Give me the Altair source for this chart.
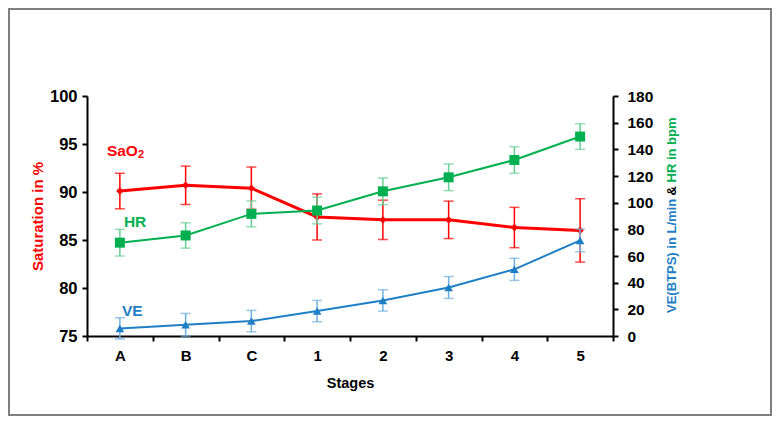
import altair as alt
import pandas as pd

stages = ["A", "B", "C", "1", "2", "3", "4", "5"]
sao2 = [90.1, 90.7, 90.4, 87.4, 87.1, 87.1, 86.3, 86.0]
sao2_err = [1.85, 2.0, 2.2, 2.4, 2.05, 1.95, 2.1, 3.3]
hr = [70.0, 75.4, 91.6, 94.1, 108.5, 119.0, 132.0, 149.6]
hr_err = [10.0, 9.5, 9.7, 10.0, 10.0, 10.0, 10.0, 9.6]
ve = [5.7, 8.4, 11.2, 18.7, 26.7, 36.4, 50.0, 71.7]
ve_err = [8.0, 8.5, 8.0, 8.0, 8.0, 8.2, 8.3, 8.5]

RED = "#FF0000"
GREEN = "#00B050"
GREEN_L = "#66CF95"
BLUE = "#1F7FC4"
BLUE_L = "#6FAFE0"
FONT = "Liberation Sans"

W, H = 526, 240

df = pd.DataFrame({
    "stage": stages,
    "sao2": sao2, "sao2_lo": [v - e for v, e in zip(sao2, sao2_err)], "sao2_hi": [v + e for v, e in zip(sao2, sao2_err)],
    "hr": hr, "hr_lo": [v - e for v, e in zip(hr, hr_err)], "hr_hi": [v + e for v, e in zip(hr, hr_err)],
    "ve": ve, "ve_lo": [v - e for v, e in zip(ve, ve_err)], "ve_hi": [v + e for v, e in zip(ve, ve_err)],
})

xenc = alt.X("stage:N", sort=stages, title="Stages",
             scale=alt.Scale(paddingInner=0, paddingOuter=0),
             axis=alt.Axis(labelAngle=0, tickBand="extent", labelFont=FONT, labelFontSize=15,
                           labelFontWeight="bold", labelColor="black", labelPadding=7,
                           tickSize=5, tickColor="black", tickWidth=2, domainColor="black", domainWidth=2,
                           titleFont=FONT, titleFontSize=14.5, titleFontWeight="bold", titleColor="black",
                           titlePadding=13))

left_scale = alt.Scale(domain=[75, 100])
right_scale = alt.Scale(domain=[0, 180])

left_axis = alt.Axis(orient="left", values=[75, 80, 85, 90, 95, 100], grid=False,
                     labelFont=FONT, labelFontSize=16.5, labelFontWeight="bold", labelColor="black",
                     labelPadding=5, tickSize=5, tickColor="black", tickWidth=2,
                     domainColor="black", domainWidth=2,
                     title="Saturation in %", titleFont=FONT, titleFontSize=15, titleFontWeight="bold",
                     titleColor=RED, titlePadding=4)
right_axis = alt.Axis(orient="right", values=list(range(0, 181, 20)), grid=False,
                      labelFont=FONT, labelFontSize=15.5, labelFontWeight="bold", labelColor="black",
                      labelPadding=9, tickSize=5, tickColor="black", tickWidth=2,
                      domainColor="black", domainWidth=2, title=None)

base = alt.Chart(df)

# left (SaO2)
l_rule = base.mark_rule(color=RED, strokeWidth=1.5).encode(
    x=xenc, y=alt.Y("sao2_lo:Q", scale=left_scale, axis=left_axis), y2="sao2_hi:Q")
l_cap_hi = base.mark_tick(color=RED, size=10, thickness=1.5, orient="horizontal").encode(
    x=xenc, y=alt.Y("sao2_hi:Q", scale=left_scale, axis=left_axis))
l_cap_lo = base.mark_tick(color=RED, size=10, thickness=1.5, orient="horizontal").encode(
    x=xenc, y=alt.Y("sao2_lo:Q", scale=left_scale, axis=left_axis))
l_line = base.mark_line(color=RED, strokeWidth=3).encode(
    x=xenc, y=alt.Y("sao2:Q", scale=left_scale, axis=left_axis))
l_pts = base.mark_point(shape="diamond", filled=True, color=RED, size=55, opacity=1).encode(
    x=xenc, y=alt.Y("sao2:Q", scale=left_scale, axis=left_axis))

lab_txt = ["SaO", "2", "HR", "VE"]
lab_val = [94.3, 94.3, 86.9, 77.6]
lab_col = [RED, RED, GREEN, BLUE]
lab_dx = [-13, 18, 4, 2]
lab_dy = [0, 4, 0, 0]
lab_size = [15.5, 11, 15.5, 15.5]
lab_df = pd.DataFrame({"stage": ["A"] * 4, "val": lab_val, "txt": lab_txt})
labels = alt.layer(*[
    alt.Chart(lab_df.iloc[[i]]).mark_text(align="left", baseline="middle", font=FONT, fontSize=lab_size[i],
                                          fontWeight="bold", color=lab_col[i], dx=lab_dx[i], dy=lab_dy[i]).encode(
        x=xenc, y=alt.Y("val:Q", scale=left_scale, axis=left_axis), text="txt:N")
    for i in range(4)
])

left = alt.layer(l_rule, l_cap_hi, l_cap_lo, l_line, l_pts, labels)

# right (HR, VE)
def series(col, color, light, shape, size, lw):
    r = base.mark_rule(color=light, strokeWidth=1.5).encode(
        x=xenc, y=alt.Y(f"{col}_lo:Q", scale=right_scale, axis=right_axis), y2=f"{col}_hi:Q")
    c1 = base.mark_tick(color=light, size=10, thickness=1.5, orient="horizontal").encode(
        x=xenc, y=alt.Y(f"{col}_hi:Q", scale=right_scale, axis=right_axis))
    c2 = base.mark_tick(color=light, size=10, thickness=1.5, orient="horizontal").encode(
        x=xenc, y=alt.Y(f"{col}_lo:Q", scale=right_scale, axis=right_axis))
    ln = base.mark_line(color=color, strokeWidth=lw).encode(
        x=xenc, y=alt.Y(f"{col}:Q", scale=right_scale, axis=right_axis))
    pt = base.mark_point(shape=shape, filled=True, color=color, size=size, opacity=1).encode(
        x=xenc, y=alt.Y(f"{col}:Q", scale=right_scale, axis=right_axis))
    return [r, c1, c2, ln, pt]

one = pd.DataFrame({"a": [0]})
title_parts = [
    ("VE(BTPS) in L/min", BLUE, 217),
    ("&", "black", 99.5),
    ("HR in bpm", GREEN, 86.5),
]
rtitle = [
    alt.Chart(one).mark_text(align="left", baseline="middle", angle=270, font=FONT, fontSize=13,
                             fontWeight="bold", color=c).encode(
        x=alt.value(585), y=alt.value(yy), text=alt.value(t))
    for t, c, yy in title_parts
]

right = alt.layer(*series("hr", GREEN, GREEN_L, "square", 100, 2),
                  *series("ve", BLUE, BLUE_L, "triangle-up", 75, 2),
                  *rtitle)

frame = alt.Chart(one).mark_rect(fill=None, stroke="#7F7F7F", strokeWidth=2).encode(
    x=alt.value(-78), x2=alt.value(W + 158), y=alt.value(-87), y2=alt.value(H + 79))

chart = alt.layer(left, right, frame).resolve_scale(y="independent").properties(
    width=W, height=H,
    autosize=alt.AutoSizeParams(type="none"),
    padding={"left": 79, "top": 88, "right": 159, "bottom": 80},
    background="white",
).configure_view(stroke=None)

chart.save("out.html", embed_options={"renderer": "svg", "actions": False})
